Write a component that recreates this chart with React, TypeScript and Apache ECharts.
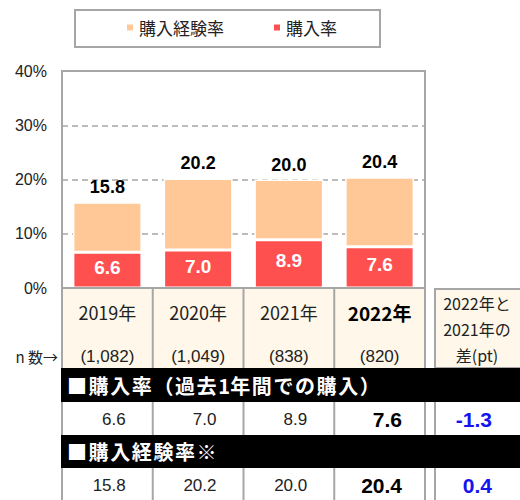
import React, { useEffect, useRef } from "react";
import * as echarts from "echarts";

const categories = ["2019年", "2020年", "2021年", "2022年"];
const nCounts = ["(1,082)", "(1,049)", "(838)", "(820)"];
const purchaseRate = [6.6, 7.0, 8.9, 7.6];
const experienceRate = [15.8, 20.2, 20.0, 20.4];
const diffPurchase = "-1.3";
const diffExperience = "0.4";
const seriesNames = ["購入経験率", "購入率"];
const sectionTitles = ["■購入率（過去1年間での購入）", "■購入経験率※"];
const diffHeader = ["2022年と", "2021年の", "差(pt)"];
const nLabel = "n 数→";
const yMin = 0;
const yMax = 40;
const yStep = 10;

const JP = "'Noto Sans CJK JP', 'Liberation Sans', sans-serif";
const NUM = "'Liberation Sans', Arial, sans-serif";
const ORANGE = "#FFC896";
const RED = "#FF5050";
const CREAM = "#FFF8EA";
const GRAY = "#A6A6A6";

export default function App() {
  const ref = useRef<HTMLDivElement>(null);
  useEffect(() => {
    if (!ref.current) return;
    const chart = echarts.init(ref.current, null, { renderer: "svg" });

    const gLeft = 62, gTop = 71, gRight = 425, gBottom = 288;
    const colW = (gRight - gLeft) / categories.length;
    const headTop = 289, headBottom = 368;
    const r1Top = 368, r1Bottom = 402, d1Bottom = 435, r2Bottom = 468, d2Bottom = 500;
    const diffL = 435, diffR = 521;
    const diffC = 477;

    const g: any[] = [];
    g.push({ type: "rect", z: 1, shape: { x: 75, y: 10, width: 305, height: 37 }, style: { fill: "none", stroke: GRAY, lineWidth: 2 } });
    g.push({ type: "rect", z: 20, silent: true, shape: { x: gLeft, y: gTop, width: gRight - gLeft, height: gBottom - gTop }, style: { fill: "none", stroke: GRAY, lineWidth: 2 } });
    g.push({ type: "rect", z: 1, shape: { x: gLeft, y: headTop, width: gRight - gLeft + 1, height: headBottom - headTop }, style: { fill: CREAM } });
    g.push({ type: "rect", z: 1, shape: { x: diffL, y: headTop, width: diffR - diffL + 2, height: headBottom - headTop }, style: { fill: CREAM, stroke: GRAY, lineWidth: 2 } });
    for (let i = 0; i <= categories.length; i++) {
      const x = gLeft + i * colW;
      g.push({ type: "line", z: 3, shape: { x1: x, y1: headTop, x2: x, y2: headBottom }, style: { stroke: GRAY, lineWidth: 2 } });
      g.push({ type: "line", z: 3, shape: { x1: x, y1: r1Bottom, x2: x, y2: d1Bottom }, style: { stroke: GRAY, lineWidth: 2 } });
      g.push({ type: "line", z: 3, shape: { x1: x, y1: r2Bottom, x2: x, y2: d2Bottom }, style: { stroke: GRAY, lineWidth: 2 } });
    }
    g.push({ type: "line", z: 3, shape: { x1: diffL, y1: r1Bottom, x2: diffL, y2: d1Bottom }, style: { stroke: GRAY, lineWidth: 2 } });
    g.push({ type: "line", z: 3, shape: { x1: diffL, y1: r2Bottom, x2: diffL, y2: d2Bottom }, style: { stroke: GRAY, lineWidth: 2 } });
    g.push({ type: "rect", z: 2, shape: { x: gLeft - 1, y: r1Top, width: 520 - gLeft + 1, height: r1Bottom - r1Top }, style: { fill: "#000" } });
    g.push({ type: "rect", z: 2, shape: { x: gLeft - 1, y: d1Bottom, width: 520 - gLeft + 1, height: r2Bottom - d1Bottom }, style: { fill: "#000" } });
    const titleY = [(r1Top + r1Bottom) / 2, (d1Bottom + r2Bottom) / 2];
    sectionTitles.forEach((t, r) => {
      let x = 67;
      for (const ch of Array.from(t)) {
        const half = /[0-9A-Za-z]/.test(ch);
        g.push({ type: "text", z: 5, x, y: titleY[r], style: { text: ch, fill: "#fff", font: `bold 20px ${JP}`, verticalAlign: "middle", align: "left" } });
        x += half ? 12 : 21.6;
      }
    });
    const rowY = [(r1Bottom + d1Bottom) / 2 + 1, (r2Bottom + d2Bottom) / 2 + 1];
    const rows = [purchaseRate, experienceRate];
    rows.forEach((arr, r) => {
      arr.forEach((v, i) => {
        const last = i === arr.length - 1;
        g.push({
          type: "text", z: 5, x: gLeft + (i + 1) * colW - (last ? 23 : 27), y: rowY[r],
          style: { text: v.toFixed(1), fill: last ? "#000" : "#222", font: last ? `bold 21px ${NUM}` : `17px ${NUM}`, align: "right", verticalAlign: "middle" },
        });
      });
    });
    [diffPurchase, diffExperience].forEach((d, r) => {
      g.push({ type: "text", z: 5, x: 492, y: rowY[r], style: { text: d, fill: "#1414F0", font: `bold 21px ${NUM}`, align: "right", verticalAlign: "middle" } });
    });
    diffHeader.forEach((t, i) => {
      g.push({ type: "text", z: 5, x: diffC, y: 303 + i * 26, style: { text: t, fill: "#222", font: `16px ${JP}`, align: "center", verticalAlign: "middle" } });
    });
    g.push({ type: "text", z: 5, x: 58, y: 356, style: { text: nLabel, fill: "#222", font: `15px ${JP}`, align: "right", verticalAlign: "middle" } });

    const option: any = {
      animation: false,
      backgroundColor: "#fff",
      textStyle: { fontFamily: JP },
      legend: {
        left: 125,
        top: 19,
        padding: 0,
        itemWidth: 8,
        itemHeight: 8,
        itemGap: 48,
        icon: "rect",
        data: seriesNames,
        textStyle: { fontSize: 17, color: "#222", fontFamily: JP },
      },
      grid: { left: gLeft, right: 520 - gRight, top: gTop, bottom: 500 - gBottom },
      xAxis: {
        type: "category",
        data: categories,
        z: 50,
        axisLine: { show: false },
        axisTick: { show: false },
        axisLabel: {
          margin: 2,
          interval: 0,
          formatter: (v: string, i: number) =>
            i === categories.length - 1 ? `{yb|${v}}\n{n|${nCounts[i]}}` : `{y|${v}}\n{n|${nCounts[i]}}`,
          rich: {
            y: { fontSize: 18, color: "#222", lineHeight: 44, fontFamily: JP },
            yb: { fontSize: 19, color: "#000", fontWeight: "bold", lineHeight: 44, fontFamily: JP },
            n: { fontSize: 17, color: "#222", lineHeight: 44, fontFamily: NUM },
          },
        },
      },
      yAxis: {
        type: "value",
        min: yMin,
        max: yMax,
        interval: yStep,
        axisLine: { show: true, lineStyle: { color: GRAY, width: 2 } },
        axisTick: { show: false },
        axisLabel: { formatter: "{value}%", fontSize: 16, color: "#222", margin: 15, fontFamily: NUM },
        splitLine: { show: true, lineStyle: { color: GRAY, type: [6, 4], width: 1.5 } },
      },
      series: [
        {
          name: seriesNames[1],
          type: "bar",
          stack: "total",
          barWidth: 69,
          data: purchaseRate,
          itemStyle: { color: RED, borderColor: "#fff", borderWidth: 1.5 },
          label: {
            show: true,
            position: "inside",
            offset: [0, -3],
            color: "#fff",
            fontWeight: "bold",
            fontSize: 19,
            fontFamily: NUM,
            formatter: (p: any) => Number(p.value).toFixed(1),
          },
        },
        {
          name: seriesNames[0],
          type: "bar",
          stack: "total",
          barWidth: 69,
          data: experienceRate.map((v, i) => +(v - purchaseRate[i]).toFixed(1)),
          itemStyle: { color: ORANGE, borderColor: "#fff", borderWidth: 1.5 },
          label: {
            show: true,
            position: "top",
            distance: 6,
            color: "#000",
            fontWeight: "bold",
            fontSize: 18,
            fontFamily: NUM,
            formatter: (p: any) => experienceRate[p.dataIndex].toFixed(1),
          },
        },
      ],
      graphic: { elements: g },
    };
    chart.setOption(option);
    return () => chart.dispose();
  }, []);
  return <div ref={ref} style={{ position: "absolute", left: 0, top: 0, width: 520, height: 500 }} />;
}
